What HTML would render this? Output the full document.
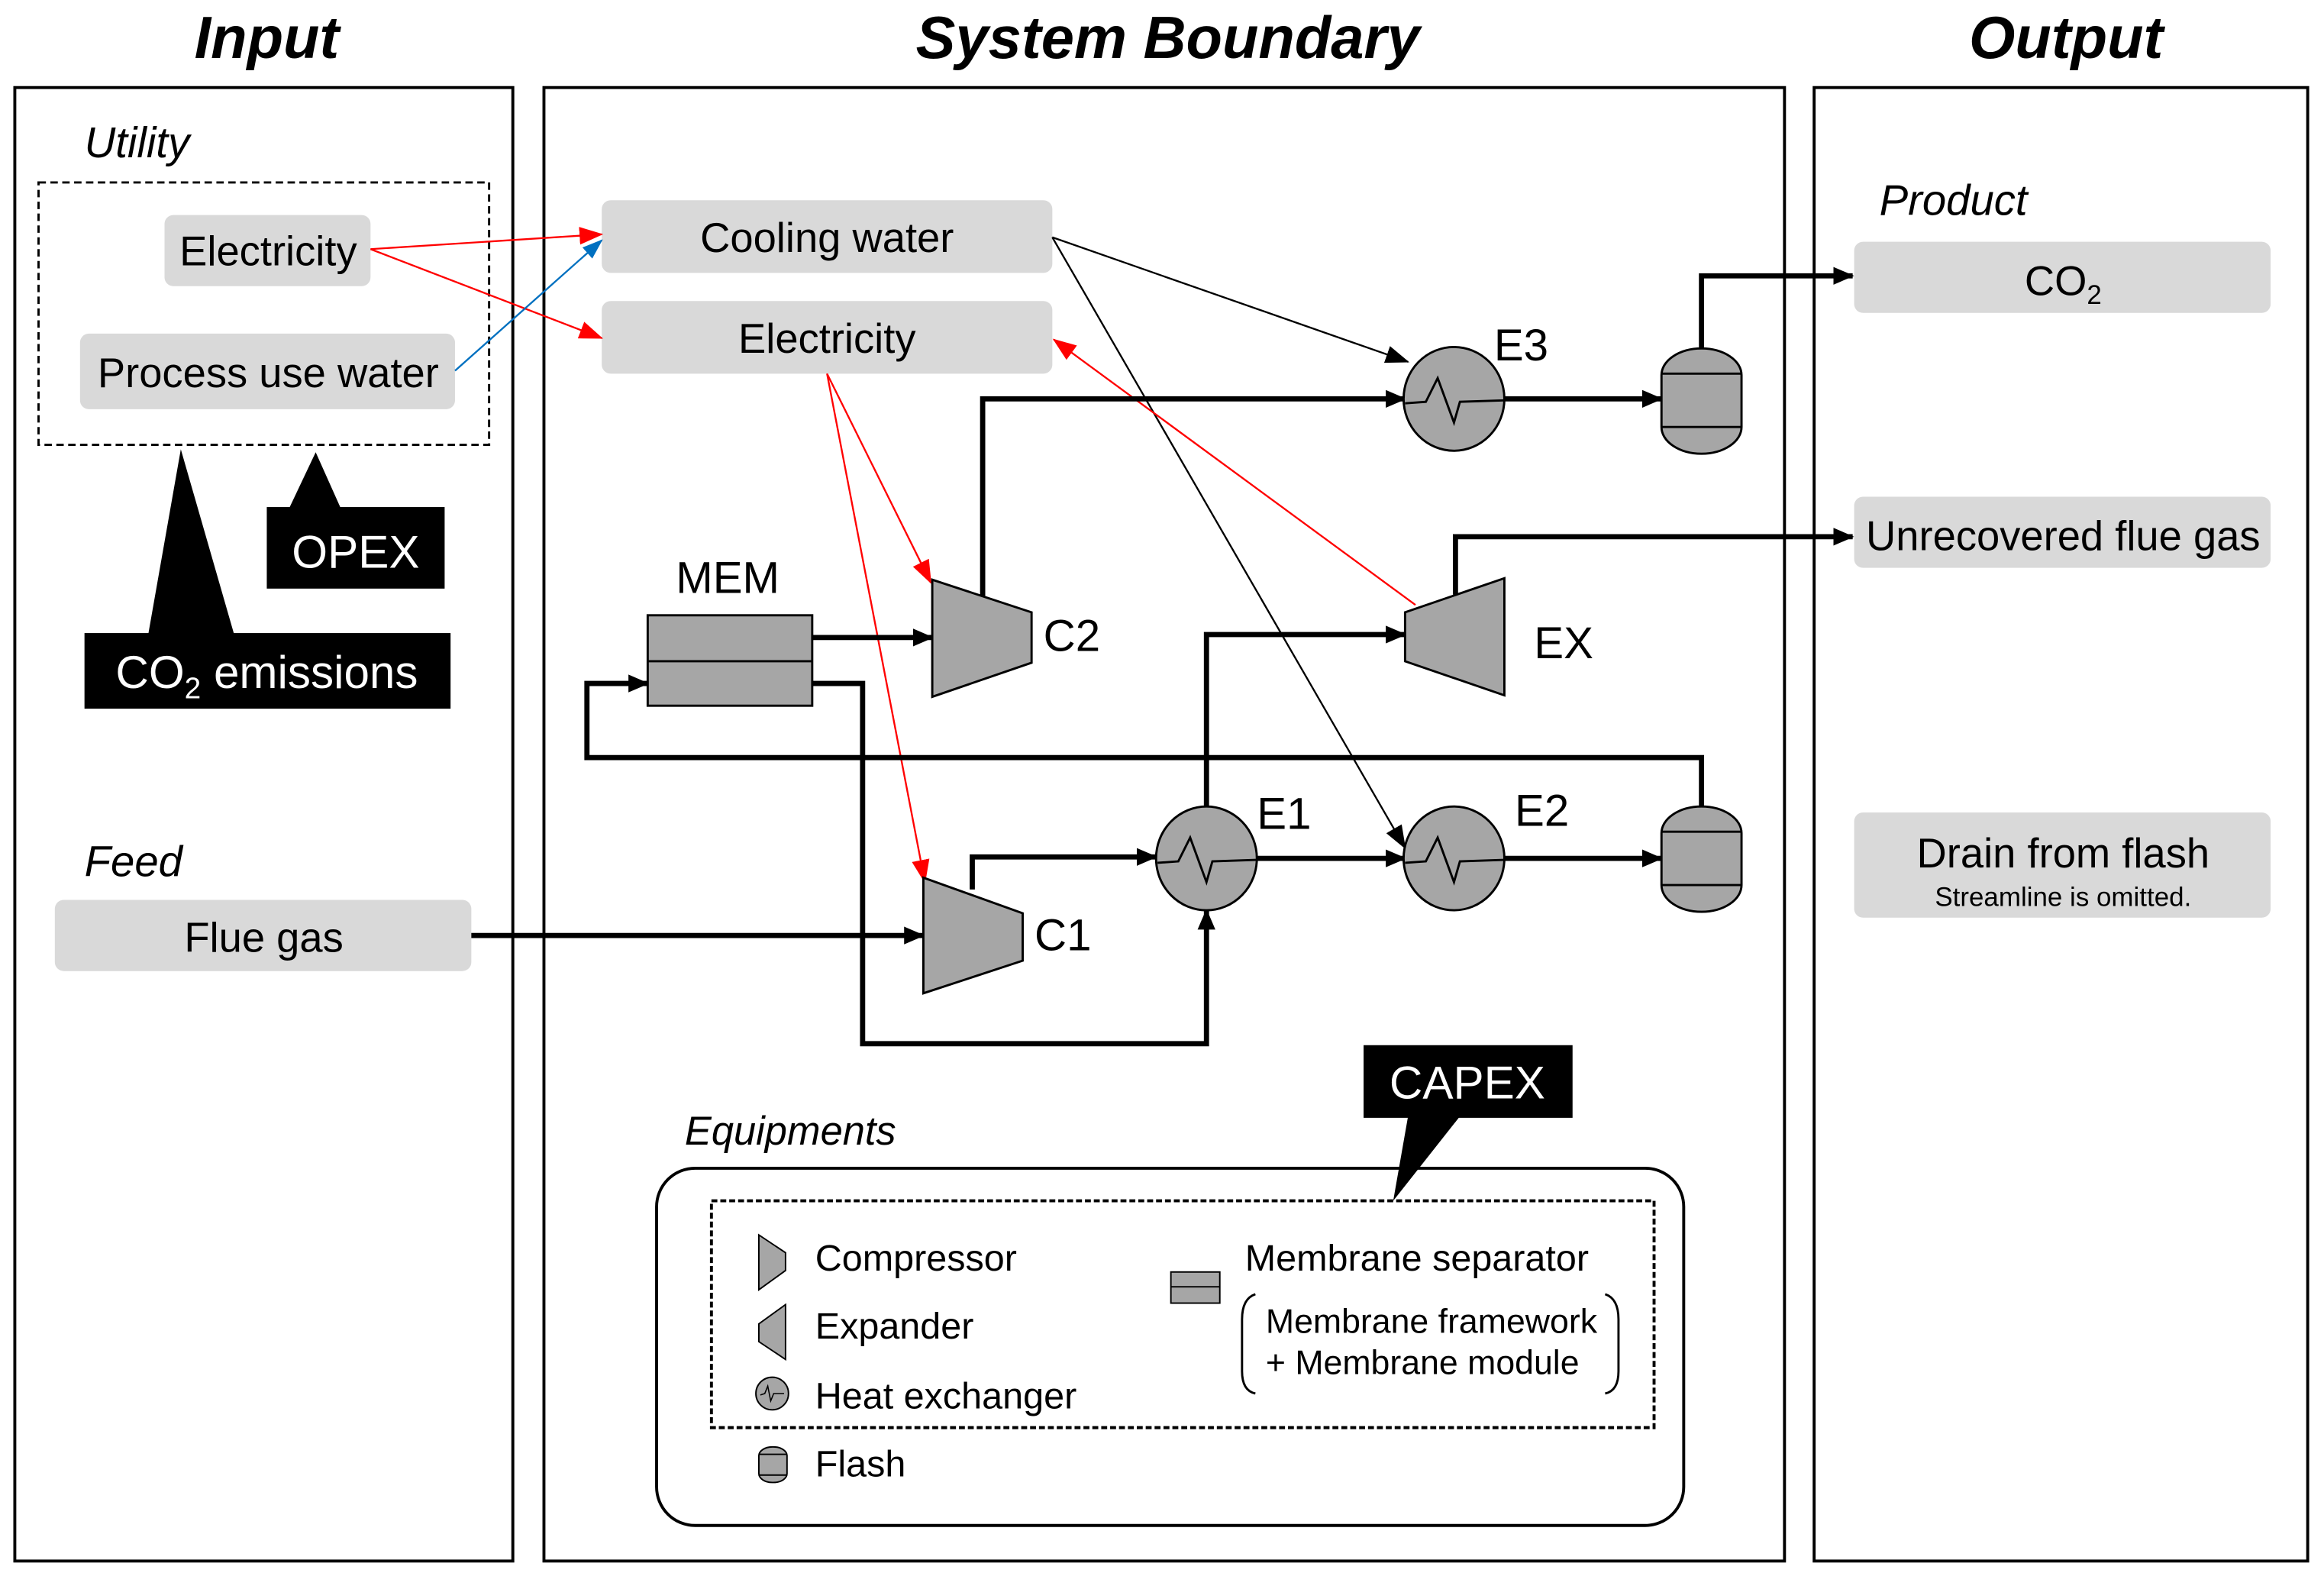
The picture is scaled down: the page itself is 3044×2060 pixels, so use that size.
<!DOCTYPE html>
<html><head><meta charset="utf-8"><style>html,body{margin:0;padding:0;background:#fff}svg{display:block}text{font-family:"Liberation Sans",Arial,sans-serif}</style></head><body>
<svg width="3044" height="2060" viewBox="0 0 1568 1061" xmlns="http://www.w3.org/2000/svg">
<defs>
<marker id="ak" markerUnits="userSpaceOnUse" markerWidth="14" markerHeight="14" refX="13" refY="7" orient="auto"><path d="M0,1 L14,7 L0,13 z" fill="#000"/></marker>
<marker id="as" markerUnits="userSpaceOnUse" markerWidth="16" markerHeight="14" refX="15" refY="7" orient="auto"><path d="M0,1 L16,7 L0,13 z" fill="#000"/></marker>
<marker id="ar" markerUnits="userSpaceOnUse" markerWidth="16" markerHeight="14" refX="15" refY="7" orient="auto"><path d="M0,1 L16,7 L0,13 z" fill="#f00"/></marker>
<marker id="ab" markerUnits="userSpaceOnUse" markerWidth="14" markerHeight="12" refX="13" refY="6" orient="auto"><path d="M0,1 L14,6 L0,11 z" fill="#0070c0"/></marker>
</defs>
<g font-weight="bold" font-style="italic" font-size="40" text-anchor="middle">
<text x="180" y="39">Input</text><text x="788" y="39">System Boundary</text><text x="1394" y="39">Output</text></g>
<g fill="none" stroke="#000" stroke-width="2">
<rect x="10" y="59" width="336" height="994"/><rect x="367" y="59" width="837" height="994"/><rect x="1224" y="59" width="333" height="994"/>
<rect x="26" y="123" width="304" height="177" stroke-dasharray="5,3" stroke-width="1.5"/>
</g>
<g font-size="29">
<text x="57" y="106" font-style="italic">Utility</text>
<text x="57" y="591" font-style="italic">Feed</text>
<text x="1268" y="145" font-style="italic">Product</text>
<text x="462" y="772" font-style="italic" font-size="27">Equipments</text>
</g>
<g fill="#d9d9d9">
<rect x="111" y="145" width="139" height="48" rx="6"/><rect x="54" y="225" width="253" height="51" rx="6"/>
<rect x="37" y="607" width="281" height="48" rx="6"/>
<rect x="406" y="135" width="304" height="49" rx="6"/><rect x="406" y="203" width="304" height="49" rx="6"/>
<rect x="1251" y="163" width="281" height="48" rx="6"/><rect x="1251" y="335" width="281" height="48" rx="6"/><rect x="1251" y="548" width="281" height="71" rx="6"/>
</g>
<g font-size="28" text-anchor="middle">
<text x="181" y="179">Electricity</text><text x="181" y="261">Process use water</text><text x="178" y="642">Flue gas</text>
<text x="558" y="170">Cooling water</text><text x="558" y="238">Electricity</text>
<text x="1392" y="199">CO<tspan font-size="18" dy="6">2</tspan></text>
<text x="1392" y="371">Unrecovered flue gas</text>
<text x="1392" y="585">Drain from flash</text><text x="1392" y="611" font-size="18">Streamline is omitted.</text>
</g>
<!-- callouts -->
<path d="M100,428 L122,303 L158,428 z" fill="#000"/>
<rect x="57" y="427" width="247" height="51" fill="#000"/>
<text x="180" y="464" font-size="31" fill="#fff" text-anchor="middle">CO<tspan font-size="20" dy="7">2</tspan><tspan dy="-7"> emissions</tspan></text>
<path d="M195,343 L213,305 L230,343 z" fill="#000"/>
<rect x="180" y="342" width="120" height="55" fill="#000"/>
<text x="240" y="383" font-size="31" fill="#fff" text-anchor="middle">OPEX</text>
<path d="M950,753 L940,810 L985,753 z" fill="#000"/>
<rect x="920" y="705" width="141" height="49" fill="#000"/>
<text x="990" y="741" font-size="31" fill="#fff" text-anchor="middle">CAPEX</text>
<!-- thin utility lines -->
<g fill="none" stroke-width="1.2">
<line x1="250" y1="168" x2="406" y2="158" stroke="#f00" marker-end="url(#ar)"/>
<line x1="250" y1="168" x2="406" y2="228" stroke="#f00" marker-end="url(#ar)"/>
<line x1="307" y1="250" x2="406" y2="162" stroke="#0070c0" marker-end="url(#ab)"/>
<line x1="710" y1="160" x2="950" y2="244" stroke="#000" marker-end="url(#as)"/>
<line x1="710" y1="160" x2="948" y2="572" stroke="#000" marker-end="url(#as)"/>
<line x1="558" y1="252" x2="628" y2="393" stroke="#f00" marker-end="url(#ar)"/>
<line x1="558" y1="252" x2="624" y2="595" stroke="#f00" marker-end="url(#ar)"/>
<line x1="955" y1="408" x2="711" y2="229" stroke="#f00" marker-end="url(#ar)"/>
</g>
<!-- thick process lines -->
<g fill="none" stroke="#000" stroke-width="3.5">
<polyline points="548,430 629,430" marker-end="url(#ak)"/>
<polyline points="548,461 582,461 582,704 814,704 814,614" marker-end="url(#ak)"/>
<polyline points="1148,544 1148,511 396,511 396,461 437,461" marker-end="url(#ak)"/>
<polyline points="663,402 663,269 948,269" marker-end="url(#ak)"/>
<polyline points="1015,269 1121,269" marker-end="url(#ak)"/>
<polyline points="1148,235 1148,186 1250,186" marker-end="url(#ak)"/>
<polyline points="982,401 982,362 1250,362" marker-end="url(#ak)"/>
<polyline points="814,545 814,428 948,428" marker-end="url(#ak)"/>
<polyline points="656,600 656,578 780,578" marker-end="url(#ak)"/>
<polyline points="848,579 948,579" marker-end="url(#ak)"/>
<polyline points="1015,579 1121,579" marker-end="url(#ak)"/>
<polyline points="318,631 623,631" marker-end="url(#ak)"/>
</g>
<!-- equipment -->
<g fill="#a6a6a6" stroke="#000" stroke-width="1.5">
<rect x="437" y="415" width="111" height="61"/><line x1="437" y1="446" x2="548" y2="446"/>
<polygon points="629,391 696,413 696,447 629,470"/>
<polygon points="948,413 1015,390 1015,469 948,446"/>
<polygon points="623,592 690,616 690,648 623,670"/>
<ellipse cx="981" cy="269" rx="34" ry="35"/><ellipse cx="814" cy="579" rx="34" ry="35"/><ellipse cx="981" cy="579" rx="34" ry="35"/>
<rect x="1121" y="235" width="54" height="71" rx="27" ry="18"/><line x1="1121" y1="252" x2="1175" y2="252"/><line x1="1121" y1="288" x2="1175" y2="288"/>
<rect x="1121" y="544" width="54" height="71" rx="27" ry="18"/><line x1="1121" y1="561" x2="1175" y2="561"/><line x1="1121" y1="597" x2="1175" y2="597"/>
</g>
<g fill="none" stroke="#000" stroke-width="1.5">
<polyline points="948,272 962,271 970,255 981,285 985,271 1015,270"/>
<polyline points="781,582 795,581 803,565 814,595 818,581 848,580"/>
<polyline points="948,582 962,581 970,565 981,595 985,581 1015,580"/>
</g>
<g font-size="30">
<text x="456" y="400">MEM</text><text x="704" y="439">C2</text><text x="1035" y="444">EX</text><text x="698" y="641">C1</text>
<text x="1008" y="243">E3</text><text x="848" y="559">E1</text><text x="1022" y="557">E2</text>
</g>
<!-- legend -->
<rect x="443" y="788" width="693" height="241" rx="26" fill="none" stroke="#000" stroke-width="2"/>
<rect x="480" y="810" width="636" height="153" fill="none" stroke="#000" stroke-width="2" stroke-dasharray="4,2"/>
<g fill="#a6a6a6" stroke="#000" stroke-width="1">
<polygon points="512,833 530,845 530,857 512,870"/>
<polygon points="530,880 512,893 512,905 530,917"/>
<circle cx="521" cy="940" r="11"/>
<rect x="512" y="976" width="19" height="24" rx="9" ry="6"/><line x1="512" y1="981" x2="531" y2="981"/><line x1="512" y1="995" x2="531" y2="995"/>
<rect x="790" y="858" width="33" height="21"/><line x1="790" y1="868" x2="823" y2="868"/>
</g>
<polyline points="513,941 516,940 518,935 520,945 522,940 529,940" fill="none" stroke="#000" stroke-width="0.8"/>
<path d="M847,873 Q838,876 838,890 L838,925 Q838,938 847,940" fill="none" stroke="#000" stroke-width="1.5"/>
<path d="M1083,873 Q1092,876 1092,890 L1092,925 Q1092,938 1083,940" fill="none" stroke="#000" stroke-width="1.5"/>
<g font-size="25">
<text x="550" y="857">Compressor</text><text x="550" y="903">Expander</text><text x="550" y="950">Heat exchanger</text><text x="550" y="996">Flash</text>
<text x="840" y="857">Membrane separator</text>
<text x="854" y="899" font-size="23">Membrane framework</text><text x="854" y="927" font-size="23">+ Membrane module</text>
</g>
</svg>
</body></html>
